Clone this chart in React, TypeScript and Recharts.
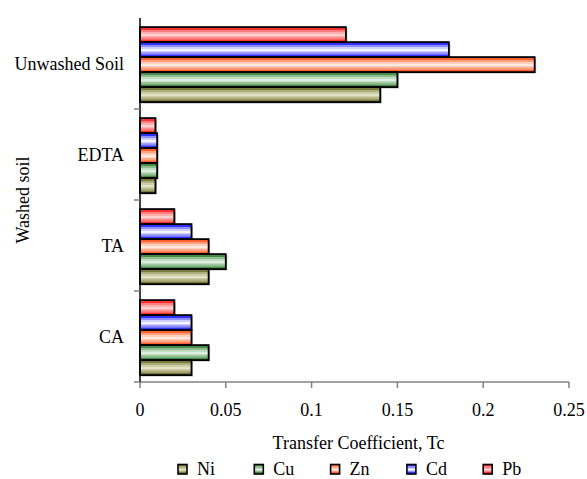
import React from 'react';
import { BarChart, Bar, XAxis, YAxis, Label } from 'recharts';

const categories = ['Unwashed Soil', 'EDTA', 'TA', 'CA'];
const niValues = [0.14, 0.009, 0.04, 0.03];
const cuValues = [0.15, 0.01, 0.05, 0.04];
const znValues = [0.23, 0.01, 0.04, 0.03];
const cdValues = [0.18, 0.01, 0.03, 0.03];
const pbValues = [0.12, 0.009, 0.02, 0.02];
const xTicks = [0, 0.05, 0.1, 0.15, 0.2, 0.25];

const data = categories.map((name, i) => ({
  name,
  Ni: niValues[i],
  Cu: cuValues[i],
  Zn: znValues[i],
  Cd: cdValues[i],
  Pb: pbValues[i],
}));

const W = 587;
const H = 479;
const MARGIN = { top: 18, right: 18, left: 0, bottom: 0 };
const X_AXIS_H = 97;
const PLOT_H = H - MARGIN.top - MARGIN.bottom - X_AXIS_H;
const BAND = PLOT_H / categories.length;
const FONT = 'Liberation Serif, Times New Roman, serif';

const palette: Record<string, { dark: string; mid: string; light: string; center: string }> = {
  Ni: { dark: '#7a7a3c', mid: '#aeae7c', light: '#cfcfa6', center: '#e2e2c8' },
  Cu: { dark: '#4a8a4a', mid: '#8ebe8e', light: '#c2dec2', center: '#deeede' },
  Zn: { dark: '#ff6030', mid: '#ffa07e', light: '#ffcfbd', center: '#ffe8de' },
  Cd: { dark: '#3030ff', mid: '#8e8eff', light: '#cfcfff', center: '#f4f4ff' },
  Pb: { dark: '#ff3030', mid: '#ff7e7e', light: '#ffaeae', center: '#ffd0d0' },
};

const seriesOrderBars = ['Pb', 'Cd', 'Zn', 'Cu', 'Ni'];
const legendOrder = ['Ni', 'Cu', 'Zn', 'Cd', 'Pb'];

const GradientStops = ({ k }: { k: string }) => {
  const p = palette[k];
  return (
    <>
      <stop offset="0%" stopColor={p.dark} />
      <stop offset="18%" stopColor={p.dark} />
      <stop offset="20%" stopColor={p.mid} />
      <stop offset="34%" stopColor={p.mid} />
      <stop offset="36%" stopColor={p.light} />
      <stop offset="44%" stopColor={p.light} />
      <stop offset="46%" stopColor={p.center} />
      <stop offset="58%" stopColor={p.center} />
      <stop offset="60%" stopColor={p.light} />
      <stop offset="68%" stopColor={p.light} />
      <stop offset="70%" stopColor={p.mid} />
      <stop offset="82%" stopColor={p.mid} />
      <stop offset="84%" stopColor={p.dark} />
      <stop offset="100%" stopColor={p.dark} />
    </>
  );
};

const Gradients = () => (
  <defs>
    {Object.keys(palette).map((k) => (
      <linearGradient key={k} id={`grad-${k}`} x1="0" y1="0" x2="0" y2="1">
        <GradientStops k={k} />
      </linearGradient>
    ))}
  </defs>
);

const makeShape = (key: string) => (props: any) => {
  const { x, y, width, height } = props;
  if (!width || width <= 0) return <g />;
  return (
    <g>
      <rect x={x + 1.5} y={y + 1.5} width={width} height={height} fill="#9a9a9a" opacity={0.6} />
      <rect x={x} y={y} width={width} height={height} fill={`url(#grad-${key})`} stroke="#000" strokeWidth={1.8} />
    </g>
  );
};

const CategoryTick = (props: any) => {
  const { x, y, payload } = props;
  return (
    <g>
      <text x={x} y={y} dy="0.355em" textAnchor="end" fill="#000" fontSize={18} fontFamily={FONT}>
        {payload.value}
      </text>
      <line x1={x + 10} x2={x + 16} y1={y + BAND / 2} y2={y + BAND / 2} stroke="#808080" strokeWidth={1.5} />
    </g>
  );
};

const LEGEND_X0 = 178;
const LEGEND_STEP = 76.3;

const LegendBox = () => (
  <svg
    width={W}
    height={H}
    style={{ position: 'absolute', left: 0, top: 0, pointerEvents: 'none' }}
  >
    <defs>
      {legendOrder.map((k) => (
        <linearGradient key={k} id={`lgrad-${k}`} x1="0" y1="0" x2="0" y2="1">
          <GradientStops k={k} />
        </linearGradient>
      ))}
    </defs>
    {legendOrder.map((k, i) => {
      const sx = LEGEND_X0 + i * LEGEND_STEP;
      return (
        <g key={k}>
          <rect x={sx} y={464.5} width={9} height={9.5} fill={`url(#lgrad-${k})`} stroke="#000" strokeWidth={1.6} />
          <text x={sx + 19} y={474.5} fontSize={18} fontFamily={FONT} fill="#000">
            {k}
          </text>
        </g>
      );
    })}
  </svg>
);

export default function App() {
  return (
    <div style={{ position: 'absolute', left: 0, top: 0, width: W, height: H, background: '#fff' }}>
      <BarChart
        width={W}
        height={H}
        data={data}
        layout="vertical"
        margin={MARGIN}
        barCategoryGap="10%"
        barGap={0}
      >
        <Gradients />
        <XAxis
          type="number"
          domain={[0, 0.25]}
          ticks={xTicks}
          interval={0}
          height={X_AXIS_H}
          stroke="#808080"
          strokeWidth={1.5}
          tickSize={6}
          tickMargin={15}
          tick={{ fill: '#000', fontSize: 18, fontFamily: FONT }}
        >
          <Label
            value="Transfer Coefficient, Tc"
            position="insideTop"
            offset={54}
            dx={4}
            fill="#000"
            fontSize={18}
            fontFamily={FONT}
          />
        </XAxis>
        <YAxis
          type="category"
          dataKey="name"
          width={140}
          stroke="#000"
          strokeWidth={1.5}
          tickLine={false}
          tickSize={6}
          tickMargin={10}
          tick={<CategoryTick />}
          interval={0}
        >
          <Label
            value="Washed soil"
            angle={-90}
            position="center"
            dx={-47}
            fill="#000"
            fontSize={18}
            fontFamily={FONT}
          />
        </YAxis>
        {seriesOrderBars.map((k) => (
          <Bar key={k} dataKey={k} isAnimationActive={false} shape={makeShape(k)} />
        ))}
      </BarChart>
      <LegendBox />
    </div>
  );
}
